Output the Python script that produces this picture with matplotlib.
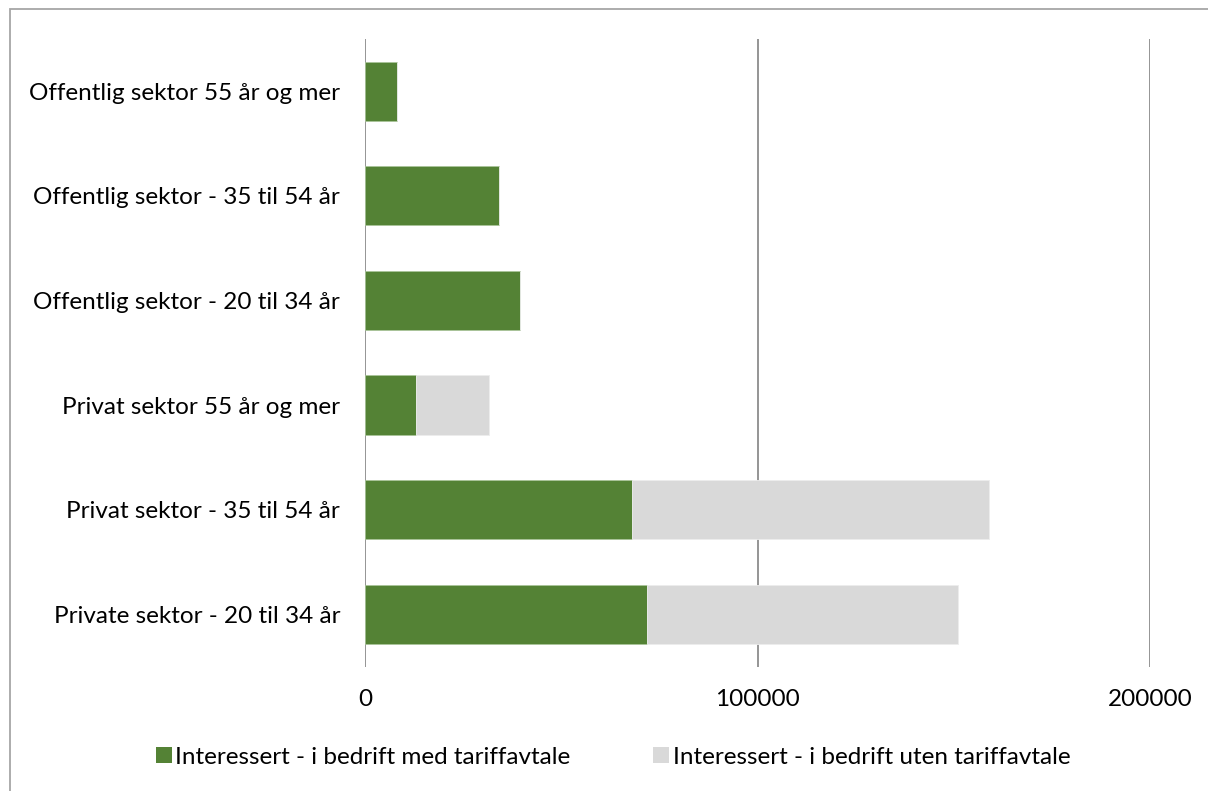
import matplotlib
matplotlib.use("Agg")
import matplotlib.pyplot as plt
from matplotlib.patches import Rectangle

# Categories, top to bottom
categories = [
    "Offentlig sektor 55 år og mer",
    "Offentlig sektor - 35 til 54 år",
    "Offentlig sektor - 20 til 34 år",
    "Privat sektor 55 år og mer",
    "Privat sektor - 35 til 54 år",
    "Private sektor - 20 til 34 år",
]
med_tariff = [8100, 34200, 39500, 13000, 68000, 71800]
uten_tariff = [0, 0, 0, 18700, 91000, 79300]
series_names = [
    "Interessert - i bedrift med tariffavtale",
    "Interessert - i bedrift uten tariffavtale",
]
x_ticks = [0, 100000, 200000]

GREEN = "#548235"
GREY = "#D9D9D9"
FS = 17.5

plt.rcParams["font.family"] = ["Lato", "DejaVu Sans"]

W, H = 1208, 791
fig = plt.figure(figsize=(W / 100, H / 100), dpi=100)

# Outer chart frame
fig.add_artist(Rectangle((9.5 / W, -0.01), 1.1, (H - 9.5) / H + 0.01,
                         transform=fig.transFigure, fill=False,
                         edgecolor="#A6A6A6", linewidth=1.3))

left, right, top, bottom = 365, 1150, 39, 666.5
ax = fig.add_axes([left / W, 1 - bottom / H, (right - left) / W, (bottom - top) / H])

ypos = list(range(len(categories)))
bh = 0.565
ax.barh(ypos, med_tariff, height=bh, color=GREEN, label=series_names[0],
        edgecolor="#A9C49A", linewidth=0.6, zorder=3)
ax.barh(ypos, uten_tariff, left=med_tariff, height=bh, color=GREY,
        label=series_names[1], edgecolor="#EDEDED", linewidth=0.6, zorder=3)

ax.set_ylim(len(categories) - 0.5, -0.5)
ax.set_xlim(0, 200000)
ax.set_yticks(ypos)
ax.set_yticklabels(categories, fontsize=FS, color="#000000")
ax.set_xticks(x_ticks)
ax.set_xticklabels([str(v) for v in x_ticks], fontsize=FS, color="#000000")
ax.tick_params(axis="y", length=0, pad=18)
ax.tick_params(axis="x", length=0, pad=16)

for v in x_ticks:
    ax.axvline(v, color="#8C8C8C", linewidth=1.3, zorder=1)
for s in ax.spines.values():
    s.set_visible(False)

handles, labels = ax.get_legend_handles_labels()
leg = fig.legend(handles, labels, loc="center", bbox_to_anchor=(613 / W, 1 - 757 / H),
                 ncol=2, frameon=False, fontsize=FS, handlelength=0.65,
                 handleheight=0.65, handletextpad=0.15, columnspacing=3.4)
for h in leg.legend_handles:
    h.set_linewidth(0)

fig.savefig("out.png", dpi=100)
